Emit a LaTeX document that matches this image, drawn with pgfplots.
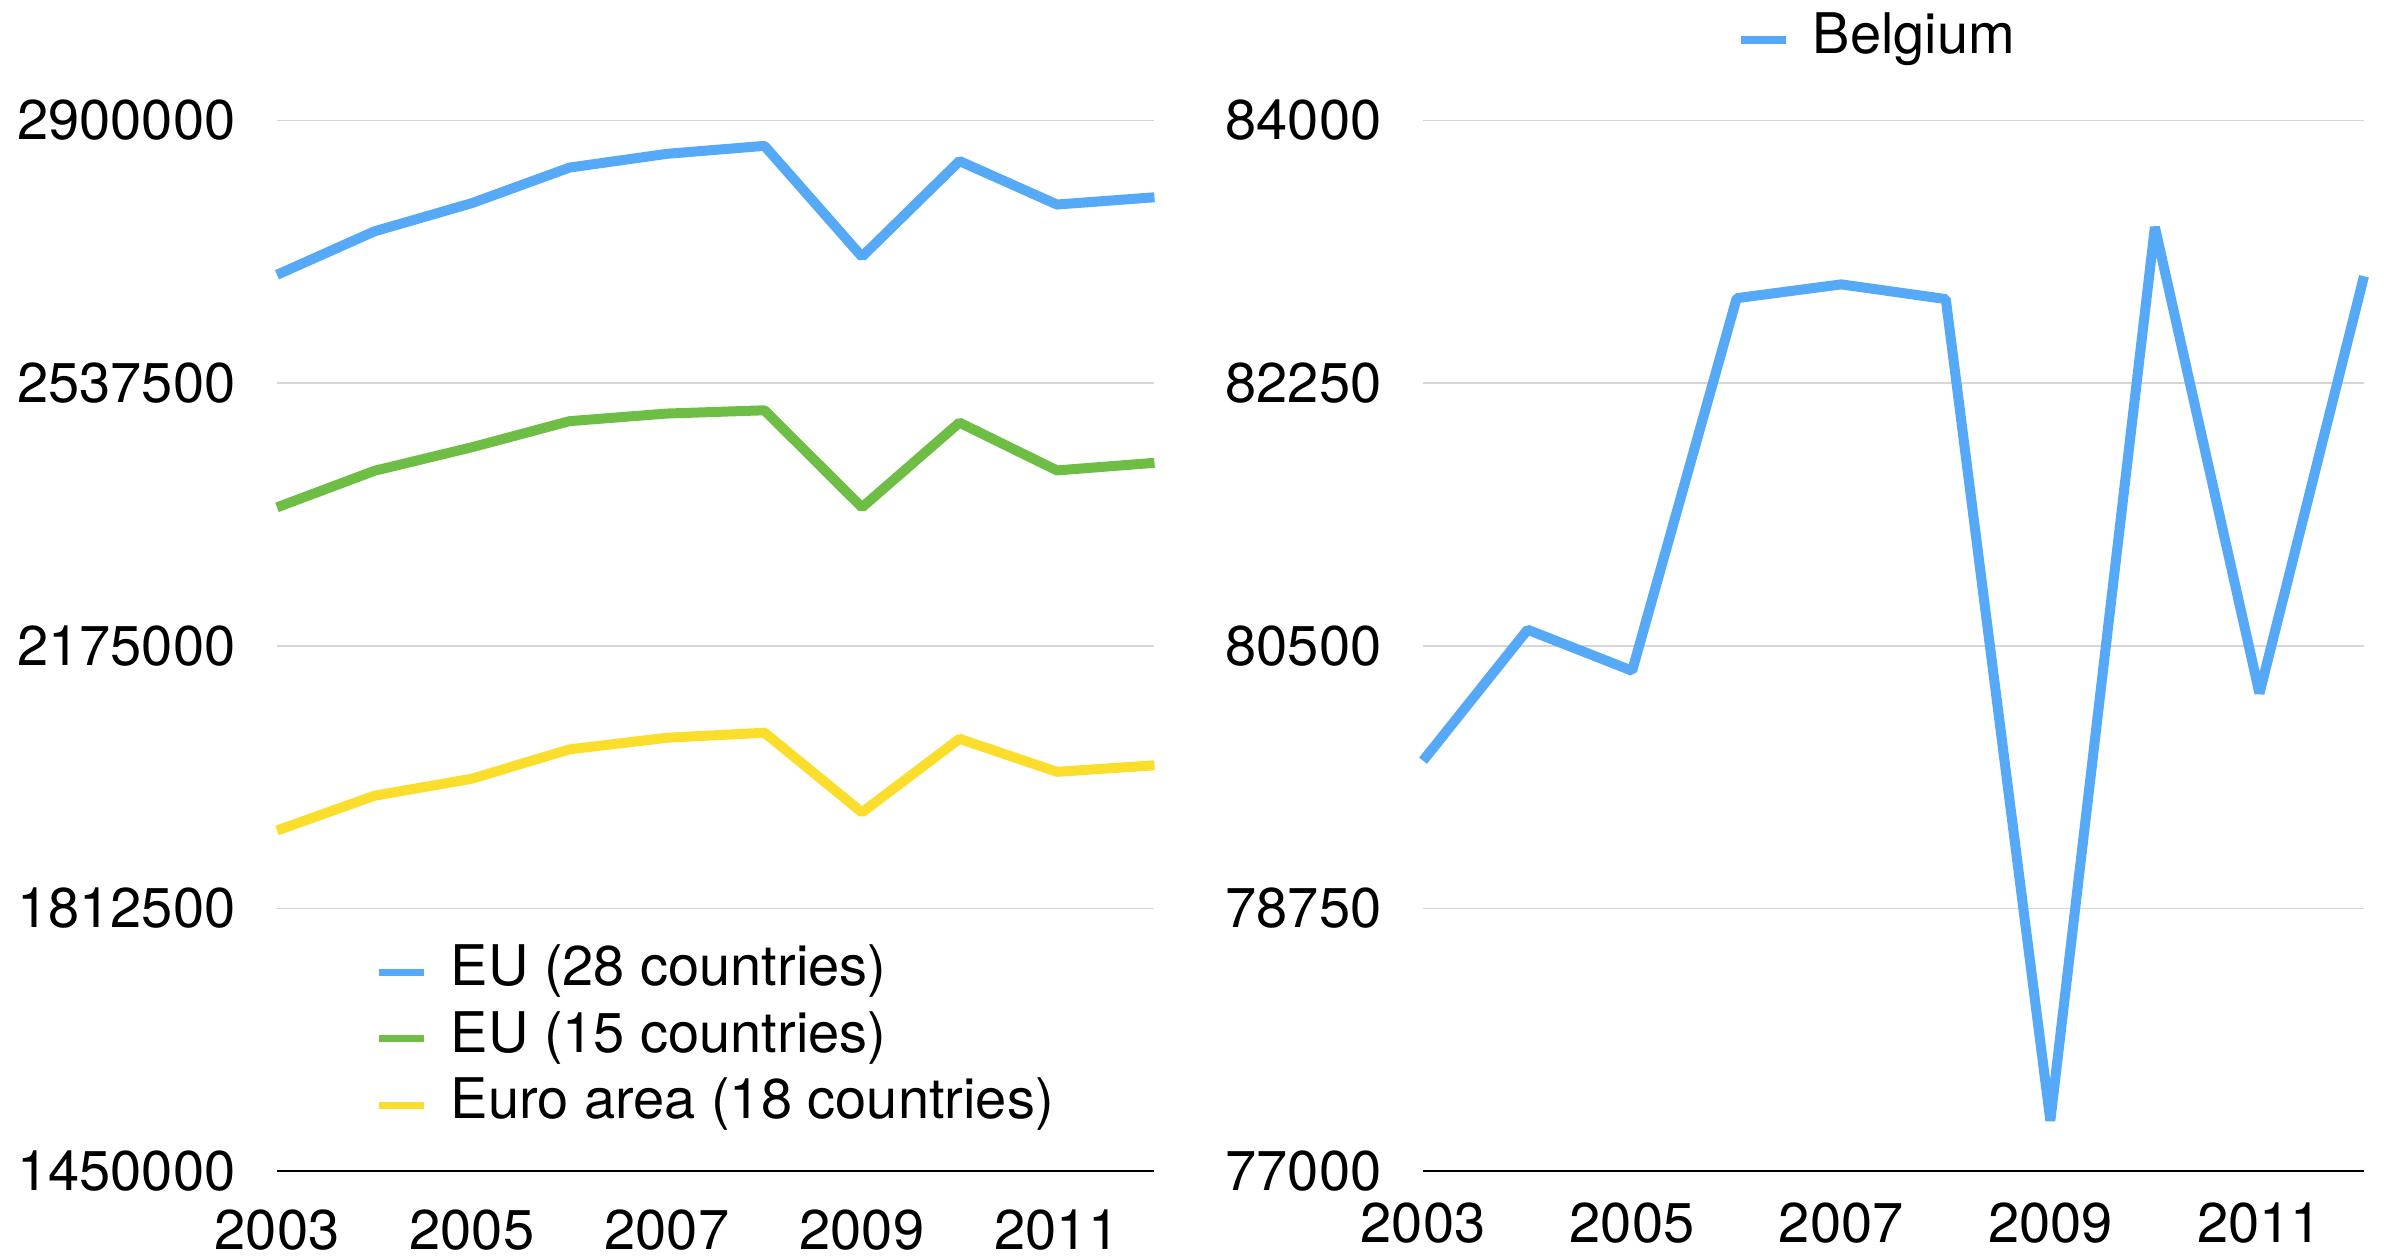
\documentclass[border=0pt]{standalone}
\usepackage{fontspec}
\setmainfont{TeX Gyre Heros}
\usepackage{pgfplots}
\usepackage{pgfplotstable}
\pgfplotsset{compat=1.18}

\definecolor{eublue}{HTML}{55A9F7}
\definecolor{eugreen}{HTML}{6EBE45}
\definecolor{euyellow}{HTML}{FBDD2C}
\definecolor{gridgrey}{HTML}{D6D6D6}

% Employment-type series, 2003-2012
\pgfplotstableread{
year eu28    eu15    euro
2003 2687000 2366000 1920000
2004 2747000 2416500 1968000
2005 2786000 2449000 1991500
2006 2835000 2485000 2032000
2007 2854000 2495500 2048000
2008 2865000 2500000 2055000
2009 2712000 2366000 1945000
2010 2844000 2483000 2046500
2011 2784000 2417000 2001000
2012 2794000 2427500 2010000
}\aggregates

\pgfplotstableread{
year belgium
2003 79734
2004 80607
2005 80333
2006 82816
2007 82908
2008 82810
2009 77335
2010 83290
2011 80183
2012 82962
}\belgium

\pgfplotsset{
  panel/.style={
    scale only axis,
    height=210.1pt,
    xmin=2003, xmax=2012,
    axis x line*=bottom,
    axis y line*=left,
    y axis line style={draw=none},
    x axis line style={black, line width=0.45pt},
    major tick length=0pt,
    ymajorgrids,
    grid style={gridgrey, line width=0.35pt},
    xtick={2003,2005,2007,2009,2011},
    scaled y ticks=false,
    tick label style={font=\fontsize{11.2}{13}\selectfont},
    /pgf/number format/assume math mode=true,
    /pgf/number format/1000 sep={},
    yticklabel style={xshift=-4.8pt},
    clip=false,
    legend cell align=left,
    legend image code/.code={\draw[##1, line width=1.46pt] (0pt,0pt) -- (9pt,0pt);},
    legend style={draw=none, fill=none, inner sep=0pt,
      font=\fontsize{11.2}{13}\selectfont,
      nodes={inner sep=0pt, text height=7.7pt, text depth=2.3pt},
      row sep=3.3pt, column sep=4.6pt},
  },
  series/.style={line width=2pt, line join=bevel},
}

\begin{document}
\begin{tikzpicture}
\path[use as bounding box] (0,0) rectangle (477.8pt,251.6pt);

\begin{axis}[panel,
  at={(55.4pt,17.4pt)}, anchor=south west,
  width=175.5pt,
  ymin=1450000, ymax=2900000,
  ytick={1450000,1812500,2175000,2537500,2900000},
  yticklabels={1450000,1812500,2175000,2537500,2900000},
  xticklabel style={yshift=-4.3pt},
  legend style={at={(0.111,0.214)}, anchor=north west},
]
\addplot[series, eublue] table[x=year, y=eu28] {\aggregates};
\addlegendentry{EU (28 countries)}
\addplot[series, eugreen] table[x=year, y=eu15] {\aggregates};
\addlegendentry{EU (15 countries)}
\addplot[series, euyellow] table[x=year, y=euro] {\aggregates};
\addlegendentry{Euro area (18 countries)}
\end{axis}

\begin{axis}[panel,
  at={(284.6pt,17.4pt)}, anchor=south west,
  width=188.2pt,
  ymin=77000, ymax=84000,
  ytick={77000,78750,80500,82250,84000},
  yticklabels={77000,78750,80500,82250,84000},
  xticklabel style={yshift=-2.9pt},
  legend style={at={(0.333,1.1015)}, anchor=north west},
]
\addplot[series, eublue] table[x=year, y=belgium] {\belgium};
\addlegendentry{Belgium}
\end{axis}
\end{tikzpicture}
\end{document}
